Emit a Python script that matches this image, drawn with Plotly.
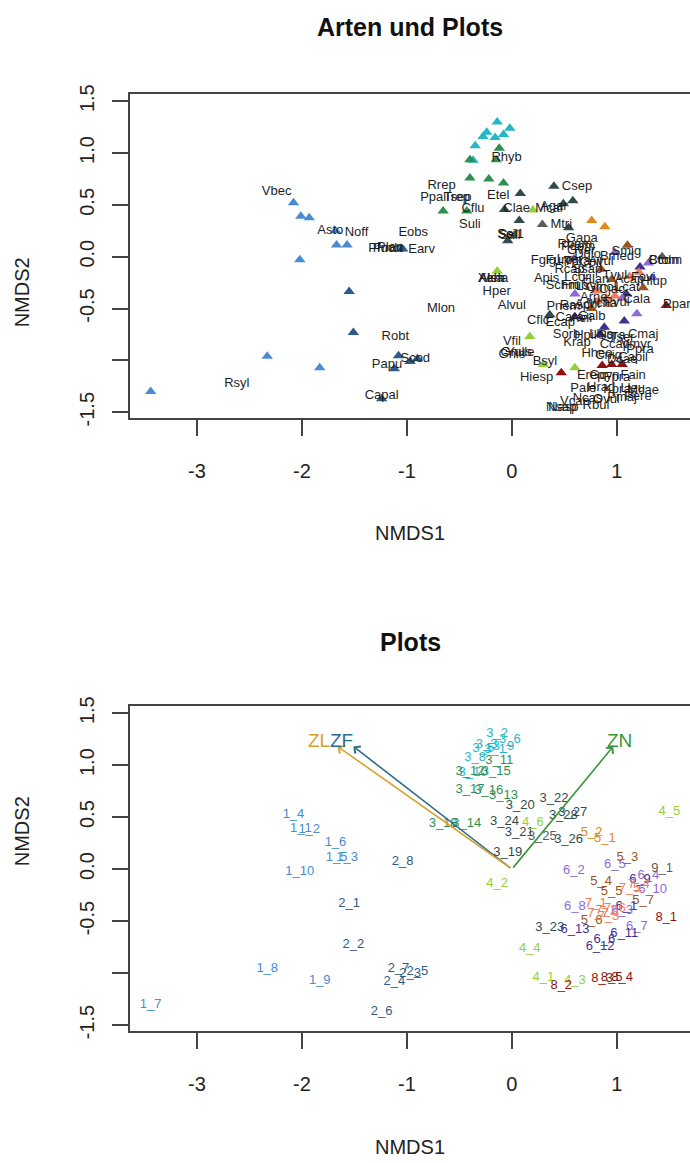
import plotly.graph_objects as go

# ---------------- data ----------------
site_labels = ["1_1","1_2","1_3","1_4","1_5","1_6","1_7","1_8","1_9","1_10",
               "2_1","2_2","2_3","2_4","2_5","2_6","2_7","2_8",
               "3_1","3_2","3_3","3_5","3_6","3_8","3_9","3_10",
               "3_11","3_12","3_13","3_14","3_15","3_16","3_17","3_18",
               "3_19","3_20","3_21","3_22","3_23","3_24","3_25","3_26","3_27","3_28",
               "4_1","4_2","4_3","4_4","4_5","4_6",
               "5_1","5_2","5_3","5_4","5_5","5_6","5_7",
               "6_1","6_2","6_3","6_4","6_5","6_6","6_7","6_8","6_9","6_10","6_11","6_12","6_13",
               "7_1","7_2","7_3","7_4","7_5","7_6","7_7",
               "8_1","8_2","8_3","8_4","8_5","9_1"]
site_x = [-2.01,-1.93,-1.57,-2.08,-1.67,-1.68,-3.44,-2.33,-1.83,-2.02,
          -1.55,-1.51,-0.97,-1.12,-0.90,-1.24,-1.08,-1.04,
          -0.16,-0.14,-0.24,-0.275,-0.02,-0.35,-0.08,-0.37,
          -0.12,-0.40,-0.08,-0.43,-0.15,-0.22,-0.40,-0.655,
          -0.04,0.08,0.07,0.40,0.36,-0.07,0.29,0.54,0.58,0.49,
          0.30,-0.14,0.60,0.17,1.50,0.20,
          0.885,0.76,1.10,0.85,0.95,0.76,1.25,
          1.09,0.59,1.05,1.30,0.98,0.88,1.19,0.60,1.22,1.34,1.07,0.84,0.60,
          0.80,0.90,0.92,1.21,1.12,0.98,0.82,
          1.47,0.47,0.86,1.05,0.95,1.43]
site_y = [0.39,0.375,0.114,0.52,0.114,0.25,-1.30,-0.96,-1.07,-0.03,
          -0.335,-0.73,-1.01,-1.08,-0.985,-1.37,-0.955,0.075,
          1.15,1.30,1.20,1.16,1.24,1.07,1.18,0.93,
          1.045,0.935,0.71,0.44,0.935,0.75,0.76,0.44,
          0.155,0.61,0.35,0.68,-0.56,0.455,0.31,0.28,0.54,0.51,
          -1.04,-0.14,-1.07,-0.77,0.55,0.45,
          0.29,0.35,0.11,-0.12,-0.22,-0.50,-0.30,
          -0.36,-0.02,-0.40,-0.06,0.04,-0.68,-0.55,-0.36,-0.10,-0.20,-0.62,-0.75,-0.58,
          -0.33,-0.40,-0.46,-0.15,-0.19,-0.38,-0.43,
          -0.47,-1.12,-1.05,-1.04,-1.04,0.0]
site_group = (["g1"]*10 + ["g2"]*8 + ["g3c"]*8 + ["g3g"]*8 +
              ["g3d"]*6 + ["gy"] + ["g3d"]*3 +
              ["g4"]*6 + ["g5o"]*2 + ["g5b"]*5 +
              ["g6d","g6l","g6l","g6l","g6l","g6d","g6l","g6l","g6d","g6l","g6d","g6d","g6d"] +
              ["g7"]*7 + ["g8"]*5 + ["gy"])
# plots whose triangle is not visible in the upper panel
hidden_in_top = ["4_5"]

group_colors = {"g1": "#4a8bd3", "g2": "#2c5b8a", "g3c": "#25b6c8", "g3g": "#2f8f50",
                "g3d": "#2e4c4c", "gy": "#5c5c5c", "g4": "#93d03e", "g5o": "#dd8a1c",
                "g5b": "#9a531d", "g6l": "#8b6bd9", "g6d": "#3f318f", "g7": "#f27a5a",
                "g8": "#8e1212"}

species_names = ["Vbec","Asto","Noff","Eobs","Earv","Pfuch","Pmut","Plan",
    "Mlon","Robt","Scod","Papu","Rsyl","Capal",
    "Rrep","Ppal","Trep","Tsep","Cflu","Suli",
    "Rhyb","Etel","Csep","Clae","Mcar","Agar","Mtri","Scil","Sall","Sel1",
    "Gapa","Pdem","Rbam","Gver","Dglo","Smig",
    "Fgig","Furo","Lper","Tpra","Cpil","Avul","Ccdm","Btom","Bmed",
    "Alsa","Xeha","Aleh","Hper","Alvul",
    "Apis","Rcap","Ssap","Lcor","Hlan","Tvul","Hlup","Acap","Fovi",
    "Schm","Frub","Lsyl","Gmol","Cjac","Lcat",
    "Pnem","Rasp","Achi","Vcha","Cala","Arne","Pvul","Ppar",
    "Cflc","Ecap","Cara","Aeli","Galb",
    "Sorb","Krap","Hpil","Lhis","Sgra","Cmaj","Tser","Vmyr","Ccap","Ppra",
    "Vfil","Yulle","Gnis","Gnus","Bsyl","Hiesp",
    "Hheo","Cnig","Capil","Dcae",
    "Gcyn","Fain","Erep","Fpra","Pale","Hrad","Kpra","Lleu","Mcae",
    "Ncas","Ovul","Pmaj","Pere","Nasp","Nsap","Vcan","Rbul"]
species_x = [-2.24,-1.73,-1.48,-0.94,-0.86,-1.21,-1.18,-1.16,
    -0.675,-1.11,-0.92,-1.19,-2.62,-1.24,
    -0.67,-0.75,-0.525,-0.515,-0.37,-0.40,
    -0.05,-0.13,0.62,0.045,0.36,0.40,0.47,-0.04,-0.02,-0.01,
    0.665,0.63,0.60,0.66,0.72,1.09,
    0.30,0.45,0.55,0.62,0.75,0.85,1.46,1.45,1.00,
    -0.20,-0.18,-0.19,-0.145,0.0,
    0.33,0.55,0.72,0.62,0.80,0.98,1.35,1.12,1.25,
    0.48,0.60,0.72,0.85,0.95,1.10,
    0.49,0.60,0.72,0.86,1.19,0.78,1.00,1.57,
    0.25,0.46,0.55,0.66,0.76,
    0.52,0.62,0.70,0.85,0.95,1.25,1.05,1.18,0.98,1.22,
    0.0,0.08,0.0,0.04,0.315,0.235,
    0.81,0.92,1.155,1.05,
    0.88,1.155,0.75,1.00,0.68,0.85,1.00,1.15,1.25,
    0.72,0.90,1.05,1.20,0.49,0.47,0.60,0.80]
species_y = [0.63,0.25,0.23,0.23,0.07,0.08,0.08,0.085,
    -0.505,-0.77,-0.98,-1.045,-1.225,-1.34,
    0.68,0.57,0.57,0.565,0.46,0.31,
    0.95,0.59,0.67,0.46,0.46,0.48,0.305,0.21,0.205,0.215,
    0.17,0.10,0.12,0.06,0.02,0.045,
    -0.035,-0.04,-0.03,-0.05,-0.06,-0.05,-0.035,-0.04,0.0,
    -0.215,-0.215,-0.21,-0.34,-0.47,
    -0.21,-0.13,-0.13,-0.20,-0.22,-0.18,-0.24,-0.22,-0.20,
    -0.28,-0.28,-0.29,-0.30,-0.32,-0.30,
    -0.48,-0.47,-0.46,-0.45,-0.42,-0.40,-0.44,-0.465,
    -0.62,-0.635,-0.59,-0.60,-0.58,
    -0.75,-0.83,-0.76,-0.75,-0.76,-0.75,-0.78,-0.85,-0.85,-0.90,
    -0.82,-0.925,-0.95,-0.93,-1.01,-1.17,
    -0.94,-0.96,-0.97,-0.99,
    -1.15,-1.15,-1.15,-1.17,-1.27,-1.26,-1.28,-1.27,-1.29,
    -1.37,-1.38,-1.36,-1.35,-1.455,-1.46,-1.40,-1.44]

env_names = ["ZF", "ZL", "ZN"]
env_x = [-1.51, -1.66, 0.965]
env_y = [1.18, 1.18, 1.18]
env_label_x = [-1.62, -1.84, 1.02]
env_label_y = [1.24, 1.24, 1.24]
env_colors = ["#2b6b8c", "#d8a030", "#3a963a"]

x_ticks = [-3, -2, -1, 0, 1]
y_ticks = [-1.5, -1.0, -0.5, 0.0, 0.5, 1.0, 1.5]
y_ticktext = ["-1.5", "", "-0.5", "0.0", "0.5", "1.0", "1.5"]

# ---------------- figure ----------------
W, H = 690, 1163
FONT = "Liberation Sans, Arial, Helvetica, sans-serif"
site_cols = [group_colors[g] for g in site_group]
top_opacity = [0 if s in hidden_in_top else 1 for s in site_labels]

fig = go.Figure()
# top: plots as triangles + species names
fig.add_trace(go.Scatter(x=site_x, y=site_y, mode="markers", xaxis="x", yaxis="y",
                         marker=dict(symbol="triangle-up", size=10, color=site_cols,
                                     opacity=top_opacity, line=dict(width=0)),
                         hoverinfo="skip", showlegend=False))
fig.add_trace(go.Scatter(x=species_x, y=species_y, mode="text", text=species_names,
                         xaxis="x", yaxis="y", textposition="middle center",
                         textfont=dict(family=FONT, size=13, color="#1e1e1e"),
                         hoverinfo="skip", showlegend=False))
# bottom: plot labels
fig.add_trace(go.Scatter(x=site_x, y=site_y, mode="text", text=site_labels,
                         xaxis="x2", yaxis="y2", textposition="middle center",
                         textfont=dict(family=FONT, size=13, color=site_cols),
                         hoverinfo="skip", showlegend=False))

annotations = []
for i in range(len(env_names)):
    annotations.append(dict(x=env_x[i], y=env_y[i], ax=0, ay=0, xref="x2", yref="y2",
                            axref="x2", ayref="y2", showarrow=True, arrowhead=4,
                            arrowsize=1.1, arrowwidth=1.6, arrowcolor=env_colors[i], text=""))
for i in range(len(env_names)):
    annotations.append(dict(x=env_label_x[i], y=env_label_y[i], xref="x2", yref="y2",
                            text=env_names[i], showarrow=False,
                            font=dict(family=FONT, size=19, color=env_colors[i])))

def py(px):
    return 1 - px / H

annotations += [
    dict(x=410 / W, y=py(18), xref="paper", yref="paper", text="<b>Arten und Plots</b>",
         showarrow=False, font=dict(family=FONT, size=25, color="#111"), yanchor="middle"),
    dict(x=410 / W, y=py(532), xref="paper", yref="paper", text="NMDS1",
         showarrow=False, font=dict(family=FONT, size=20, color="#222"), yanchor="middle"),
    dict(x=22 / W, y=py(250), xref="paper", yref="paper", text="NMDS2", textangle=-90,
         showarrow=False, font=dict(family=FONT, size=20, color="#222"), xanchor="center"),
    dict(x=410 / W, y=py(642), xref="paper", yref="paper", text="<b>Plots</b>",
         showarrow=False, font=dict(family=FONT, size=25, color="#111"), yanchor="middle"),
    dict(x=410 / W, y=py(1155), xref="paper", yref="paper", text="NMDS1",
         showarrow=False, font=dict(family=FONT, size=20, color="#222"), yanchor="middle"),
    dict(x=22 / W, y=py(872), xref="paper", yref="paper", text="NMDS2", textangle=-90,
         showarrow=False, font=dict(family=FONT, size=20, color="#222"), xanchor="center"),
]

xr = [-3.637, 1.696]
yr = [-1.56, 1.572]
axis_common = dict(showgrid=False, zeroline=False, showline=True, linecolor="#444",
                   linewidth=1.5, ticks="outside", ticklen=16, tickwidth=1.5, tickcolor="#444",
                   tickfont=dict(family=FONT, size=20, color="#222"))

xd = [130 / W, 1.0]
fig.update_layout(
    width=W, height=H, margin=dict(l=0, r=0, t=0, b=0),
    paper_bgcolor="white", plot_bgcolor="white", showlegend=False,
    xaxis=dict(domain=xd, range=xr, tickvals=x_ticks, ticktext=[str(v) for v in x_ticks],
               anchor="y", mirror=True, ticklabelstandoff=18, **axis_common),
    yaxis=dict(domain=[py(415.5), py(86)], range=yr, tickvals=y_ticks, ticktext=y_ticktext,
               anchor="x", tickangle=-90, ticklabelstandoff=10, **axis_common),
    xaxis2=dict(domain=xd, range=xr, tickvals=x_ticks, ticktext=[str(v) for v in x_ticks],
                anchor="y2", mirror=True, ticklabelstandoff=18, **axis_common),
    yaxis2=dict(domain=[py(1037.5), py(707)], range=yr, tickvals=y_ticks, ticktext=y_ticktext,
                anchor="x2", tickangle=-90, ticklabelstandoff=10, **axis_common),
    annotations=annotations,
)

fig.write_html("out.html", config={"displayModeBar": False},
               post_script="document.body.style.margin='0';document.body.style.overflow='hidden';")
